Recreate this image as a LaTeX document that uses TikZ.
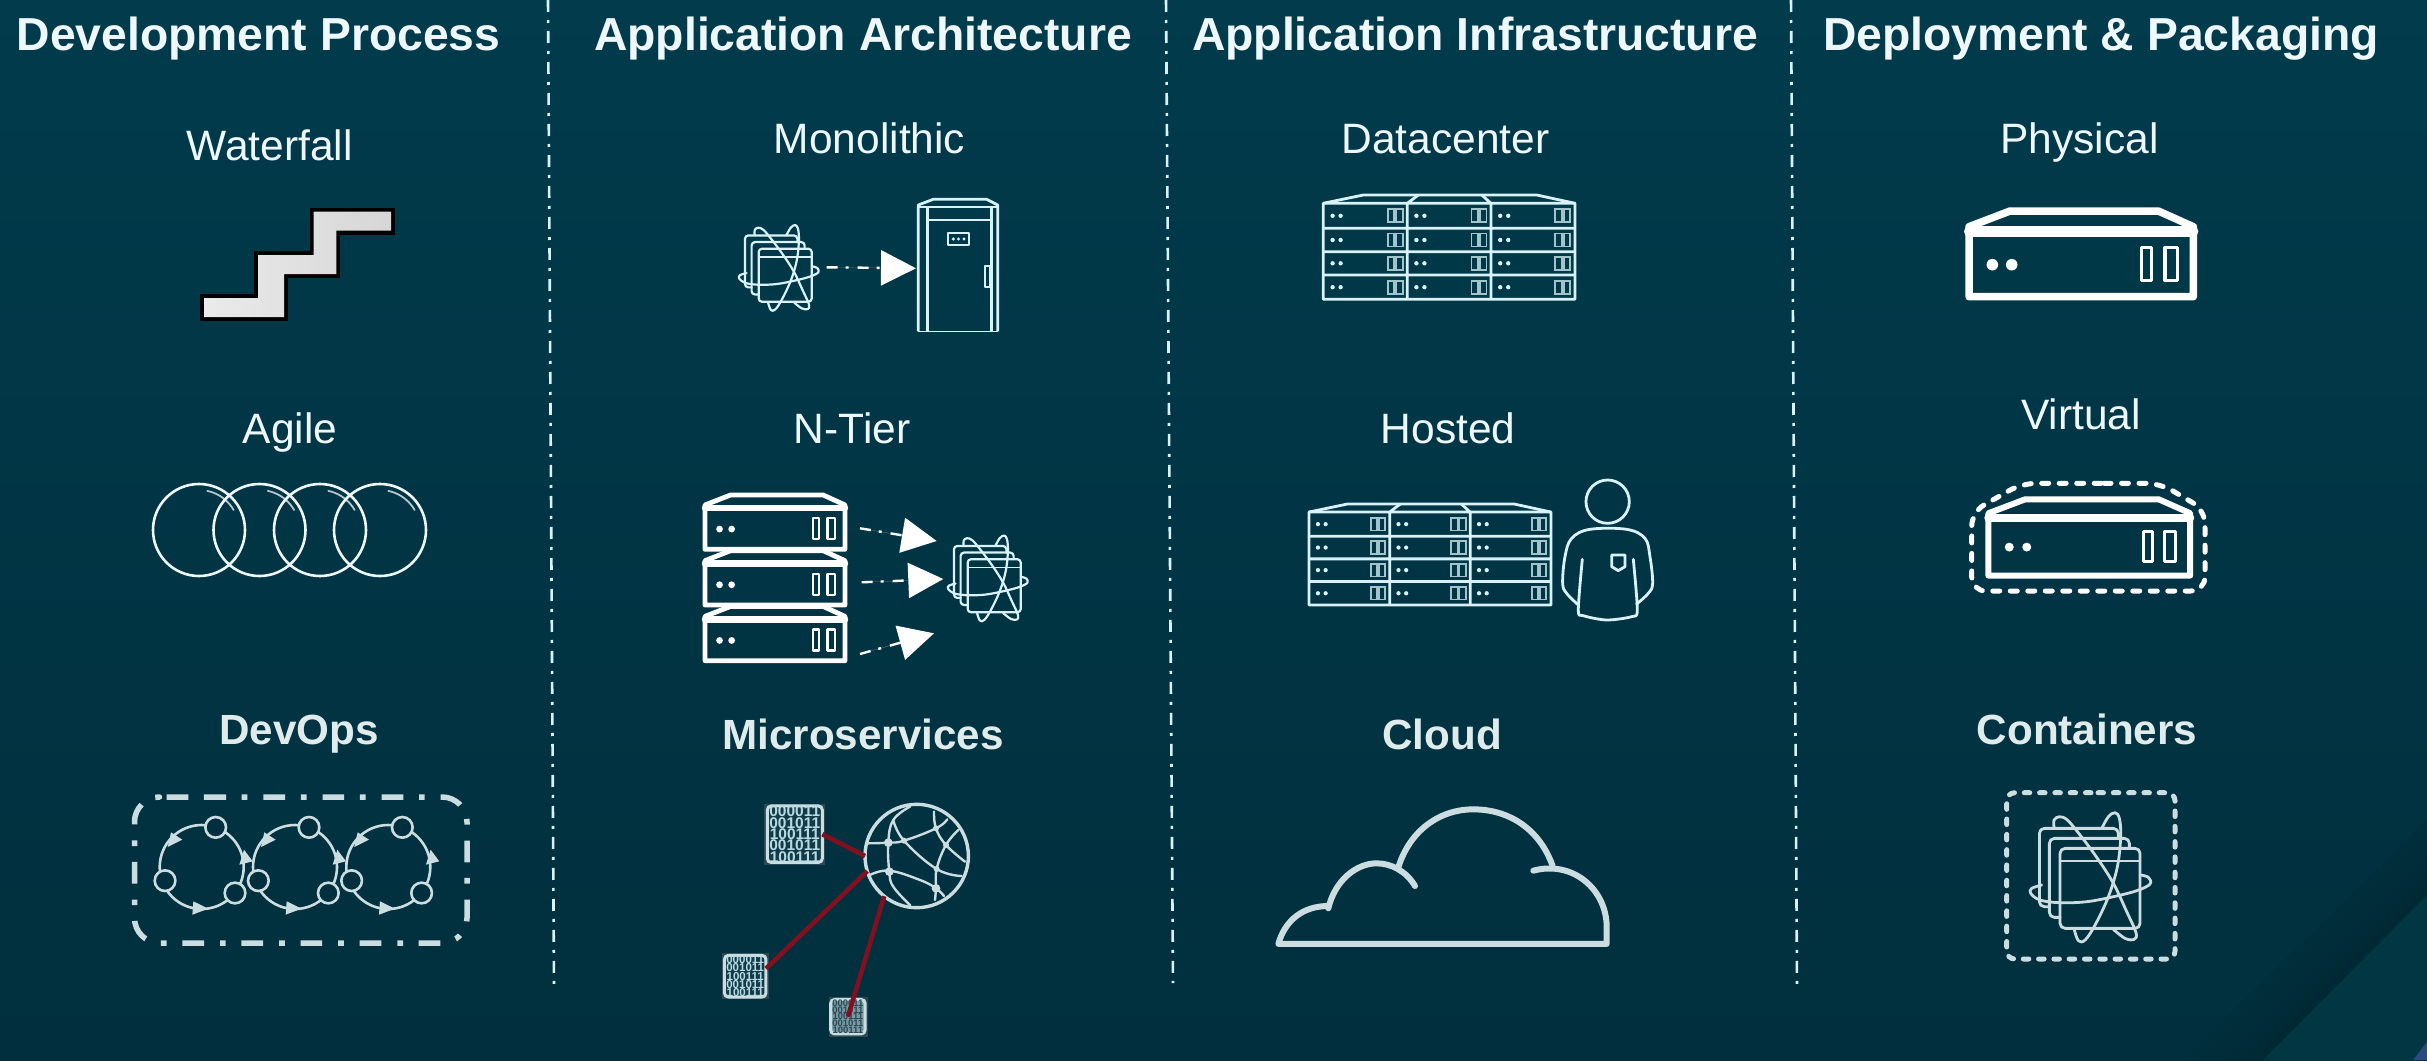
\documentclass[tikz,border=0pt]{standalone}
\usepackage{fontspec}
\setmainfont{Liberation Sans}
\usetikzlibrary{arrows.meta}
\definecolor{bgtop}{HTML}{013B4C}
\definecolor{bgmid}{HTML}{013848}
\definecolor{bgbot}{HTML}{012F3D}
\definecolor{banddark}{HTML}{012934}
\definecolor{cornerlight}{HTML}{013642}
\definecolor{cornerblue}{HTML}{2A4A80}
\definecolor{ink}{HTML}{EEF8FA}
\definecolor{brightline}{HTML}{D8F2F8}
\definecolor{softline}{HTML}{CBDDE0}
\definecolor{redline}{HTML}{821020}
\definecolor{chiptext}{HTML}{B4DCE4}
\definecolor{chiphalo}{HTML}{2B4853}
\tikzset{
  headtext/.style={font=\fontsize{46.3}{50}\selectfont\bfseries,text=ink,anchor=base,inner sep=0pt},
  subtext/.style={font=\fontsize{42.5}{46}\selectfont,text=ink,anchor=base,inner sep=0pt},
  boldtext/.style={font=\fontsize{42.2}{46}\selectfont\bfseries,text=softline!60!white,anchor=base,inner sep=0pt},
  divider/.style={draw=brightline,line width=2.6pt,dash pattern=on 12pt off 8pt on 3pt off 8pt},
  flowline/.style={draw=white,fill=white,line width=2.4pt,dash pattern=on 11pt off 8pt on 3pt off 9pt,
    -{Triangle[length=35pt,width=35pt,sep=0pt]}},
  srv/.style={draw=white,line join=round,line cap=round},
  thinicon/.style={draw=brightline,line width=2.8pt,line join=round},
  softicon/.style={draw=softline,line join=round,line cap=round},
  redlink/.style={draw=redline,line width=4.6pt},
  chipbox/.style={draw=softline,line width=3pt,rounded corners=4pt,
    inner sep=0pt,outer sep=0pt,text=chiptext,align=center},
}
\newcommand{\serverIcon}[7]{%
  \begin{scope}[shift={(#1,#2)},xscale=#3,yscale=#4]
    \draw[srv,line width=#5pt] (0,85.7)--(0,15.7)--(41,0)--(189.3,0)--(224.3,15.7)--(224.3,85.7)--cycle;
    \draw[srv,line width=1.35*#5pt] (0,20.5)--(224.3,20.5);
    \draw[srv,line width=#6pt] (172.7,36.3) rectangle (182.7,69.7) (196,36.3) rectangle (208.3,69.7);
    \fill[white] (23.3,53.7) circle[radius=#7] (42.7,53.7) circle[radius=#7];
  \end{scope}}
% atom icon: coordinates are those of the large Containers icon (3x), centred on (332,320)
\newcommand{\atomIcon}[5]{%
  \begin{scope}[shift={(#1,#2)},scale=#3*0.3333,shift={(-332,-320)}]
    \tikzset{atomline/.style={draw=#5,line width=#4pt,line join=round,line cap=round}}
    \draw[atomline,rounded corners=#3*5pt] (415,205)--(415,175)--(178,175)--(178,410)--(208,410);
    \draw[atomline,rounded corners=#3*5pt] (448,235)--(448,205)--(208,205)--(208,442)--(240,442);
    \draw[atomline,rounded corners=#3*5pt] (240,235) rectangle (480,475);
    \draw[atomline,line width=0.75*#4pt] (240,272)--(480,272);
    \draw[atomline] plot[smooth,tension=.6] coordinates {(222,172)(222,150)(238,140)(262,150)(300,195)(350,262)(400,340)(440,425)(468,488)(462,508)(435,505)(400,478)};
    \draw[atomline] plot[smooth,tension=.6] coordinates {(365,175)(385,140)(405,128)(418,145)(422,200)(412,290)(385,380)(345,465)(315,510)(295,512)(283,480)};
    \draw[atomline] plot[smooth,tension=.6] coordinates {(185,345)(155,355)(152,370)(180,390)(240,398)(320,395)(400,380)(470,362)(510,342)(505,322)(482,315)};
  \end{scope}}
\newcommand{\rackGrid}[4]{%
  \begin{scope}[shift={(#1,#2)},xscale=#3,yscale=#4]
    \draw[thinicon] (0,104.3)--(0,8.3)--(40,0)--(213.4,0)--(251.7,8.3)--(251.7,104.3)--cycle;
    \draw[thinicon] (0,8.3)--(251.7,8.3) (95,0)--(84,8.3) (158.4,0)--(167.7,8.3)
      (84,8.3)--(84,104.3) (167.7,8.3)--(167.7,104.3)
      (0,33.3)--(251.7,33.3) (0,56.7)--(251.7,56.7) (0,80)--(251.7,80);
    \foreach \cx in {0,83.8,167.6}{\foreach \ry in {20.8,45,68.3,92.2}{
      \fill[brightline] (\cx+9.3,\ry) circle[radius=2.2] (\cx+17.3,\ry) circle[radius=2.2];
      \draw[draw=brightline!75!bgtop,line width=1.8pt] (\cx+64.3,\ry-6.5) rectangle (\cx+71,\ry+6.5)
        (\cx+72.7,\ry-6.5) rectangle (\cx+79.3,\ry+6.5);
    }}
  \end{scope}}
\newcommand{\loopIcon}[2]{%
  \begin{scope}[shift={(#1,#2)},scale=0.3333]
    \draw[softicon,line width=2.6pt] (0,0) circle[radius=126];
    \fill[softline] (-102,-60)--(-92,-104)--(-58,-82)--cycle
      (127,-52)--(113,-7)--(153,-17)--cycle
      (20,125)--(-25,103)--(-28,143)--cycle;
    \foreach \px/\py in {42/-119,-110/41,100/78}{
      \draw[softicon,line width=2.6pt,fill=bgbot] (\px,\py) circle[radius=31];}
  \end{scope}}
\begin{document}
\begin{tikzpicture}[x=1pt,y=-1pt]
\useasboundingbox (0,0) rectangle (2427,1060);
\shade[top color=bgtop,middle color=bgmid,bottom color=bgbot] (0,0) rectangle (2427,1060);
% corner
\foreach \i in {0,...,9}{
  \pgfmathsetmacro\bx{2183+8*\i}
  \pgfmathsetmacro\ry{820+7.5*\i}
  \pgfmathsetmacro\mixv{(\i+1)*10}
  \fill[banddark!\mixv!bgbot] (\bx,1060)--(2427,\ry)--(2427,895)--(2263,1060)--cycle;
}
\fill[cornerlight] (2263,1060)--(2427,895)--(2427,1060)--cycle;
\fill[cornerblue] (2413,1060)--(2427,1042)--(2427,1060)--cycle;
% dividers
\coordinate (d1a) at (548,0); \coordinate (d1b) at (554,986);
\coordinate (d2a) at (1166,0); \coordinate (d2b) at (1173,983);
\coordinate (d3a) at (1791,0); \coordinate (d3b) at (1797,986);
\draw[divider] (d1a)--(d1b);
\draw[divider] (d2a)--(d2b);
\draw[divider] (d3a)--(d3b);
% headers
\node[headtext] (h1) at (258.5,50) {Development Process};
\node[headtext] (h2) at (863,50) {Application Architecture};
\node[headtext] (h3) at (1475,50) {Application Infrastructure};
\node[headtext] (h4) at (2101,50) {Deployment \& Packaging};
% labels
\node[subtext] (waterfall) at (269.5,160) {Waterfall};
\node[subtext] (agile) at (290,443) {Agile};
\node[boldtext] (devops) at (299,744) {DevOps};
\node[subtext] (mono) at (869.5,153.5) {Monolithic};
\node[subtext] (ntier) at (852,443) {N-Tier};
\node[boldtext] (micro) at (863,749) {Microservices};
\node[subtext] (dc) at (1445.5,153.5) {Datacenter};
\node[subtext] (hosted) at (1448,443) {Hosted};
\node[boldtext] (cloud) at (1442,749) {Cloud};
\node[subtext] (phys) at (2079.5,153.5) {Physical};
\node[subtext] (virt) at (2081,429) {Virtual};
\node[boldtext] (cont) at (2087,744) {Containers};
% waterfall stairs
\draw[draw=black,line width=8pt,line join=miter]
  (313.5,211.7)--(391,211.7)--(391,230.7)--(336.4,230.7)--(336.4,274)--(284,274)--(284,317)
  --(204.3,317)--(204.3,298)--(258,298)--(258,255)--(313.5,255)--cycle;
\path[left color=black!8,middle color=black!2,right color=black!16]
  (313.5,211.7)--(391,211.7)--(391,230.7)--(336.4,230.7)--(336.4,274)--(284,274)--(284,317)
  --(204.3,317)--(204.3,298)--(258,298)--(258,255)--(313.5,255)--cycle;
% agile
\foreach \cx in {199,259.5,320,380}{
  \draw[softicon,draw=ink,line width=2.6pt] (\cx,530) circle[radius=46];
  \draw[softicon,draw=ink!75!bgmid,line width=1.8pt] plot[domain=-78:-30,samples=12] ({\cx+40*cos(\x)},{530+40*sin(\x)});
}
% devops
\draw[softicon,line width=5.5pt,line cap=butt,rounded corners=25pt,dash pattern=on 21.7pt off 15.7pt on 5.7pt off 16pt]
  (179.3,797)--(467,797)--(467,943)--(134.5,943)--(134.5,797)--cycle;
\loopIcon{201.7}{867}
\loopIcon{295}{867}
\loopIcon{388.3}{867}
% monolithic
\atomIcon{779}{267.5}{0.663}{2.2}{brightline}
\begin{scope}[every path/.append style={thinicon}]
  \draw (918.3,331.3)--(918.3,205)--(933.3,199.3)--(986.7,199.3)--(997.7,205)--(997.7,331.3);
  \draw (918.3,207)--(997.7,207) (927.7,207)--(927.7,331.3) (991.7,207)--(991.7,331.3)
    (927.7,220)--(991.7,220);
  \draw[line width=1.2pt] (918.3,331.3)--(997.7,331.3);
  \draw[line width=1.8pt] (947.7,233.3) rectangle (969,244.7) (985,266) rectangle (990,286.7);
\end{scope}
\fill[brightline] (953.3,239) circle[radius=1.7] (958.5,239) circle[radius=1.7] (964,239) circle[radius=1.7];
\coordinate (m1) at (826.7,267.3); \coordinate (m2) at (916,268.3);
\draw[flowline] (m1)--(m2);
% n-tier
\serverIcon{705}{495}{0.624}{0.634}{4.8}{2.4}{5.4}
\serverIcon{705}{550.7}{0.624}{0.634}{4.8}{2.4}{5.4}
\serverIcon{705}{606.4}{0.624}{0.634}{4.8}{2.4}{5.4}
\atomIcon{988}{578}{0.663}{2.2}{brightline}
\coordinate (n1a) at (860,528.3); \coordinate (n1b) at (936.7,541);
\coordinate (n2a) at (861.7,582.3); \coordinate (n2b) at (943.3,579);
\coordinate (n3a) at (860,654); \coordinate (n3b) at (934,633.3);
\draw[flowline] (n1a)--(n1b);
\draw[flowline] (n2a)--(n2b);
\draw[flowline] (n3a)--(n3b);
% microservices
\fill[chiphalo] (764,803.5) rectangle (825,865);
\fill[chiphalo] (721.5,953) rectangle (769,999);
\fill[chiphalo] (828.5,997) rectangle (867.5,1036.5);
\node[chipbox,fill=chiphalo!45!bgbot,minimum size=55pt,font=\fontsize{15.5}{11.4}\selectfont\bfseries] (chip1) at (794.8,834.2)
  {000011\\001011\\100111\\001011\\100111};
\node[chipbox,fill=chiphalo!45!bgbot,minimum size=41.5pt,font=\fontsize{11.5}{8.4}\selectfont\bfseries] (chip2) at (745.2,976.2)
  {000011\\001011\\100111\\001011\\100111};
\node[chipbox,fill=chiphalo!45!chiptext,minimum size=34.5pt,font=\fontsize{9.5}{6.8}\selectfont\bfseries,text=chiphalo] (chip3) at (847.9,1016.7)
  {000011\\001011\\100111\\001011\\100111};
\node[circle,draw=softline,line width=3.4pt,minimum size=103.4pt,inner sep=0pt,outer sep=0pt] (globe) at (916.7,856) {};
\begin{scope}[shift={(690,780)},scale=0.3333]
  \draw[softicon,line width=2.4pt] plot[smooth,tension=.7] coordinates {(530,190)(595,188)(642,182)(738,145)(772,118)};
  \draw[softicon,line width=2.4pt] plot[smooth,tension=.7] coordinates {(540,285)(598,272)(690,300)(738,325)(762,348)};
  \draw[softicon,line width=2.4pt] plot[smooth,tension=.7] coordinates {(660,80)(610,120)(595,188)(598,275)(610,320)(660,375)};
  \draw[softicon,line width=2.4pt] plot[smooth,tension=.7] coordinates {(610,120)(642,182)(740,267)(815,288)};
  \draw[softicon,line width=2.4pt] plot[smooth,tension=.7] coordinates {(732,95)(738,145)(768,195)(825,245)};
  \draw[softicon,line width=2.4pt] plot[smooth,tension=.7] coordinates {(805,150)(768,195)(740,267)(738,325)(735,360)};
  \fill[softline] (595,188) circle[radius=13] (598,275) circle[radius=13] (738,325) circle[radius=13]
    (642,182) circle[radius=9] (738,145) circle[radius=9] (768,195) circle[radius=9] (740,267) circle[radius=9];
\end{scope}
\draw[redlink] (chip1.east)--(globe.west);
\draw[redlink] (chip2.20)--(globe.197);
\draw[redlink] (chip3.center)--(globe.231);
% datacenter / hosted
\rackGrid{1323.3}{195}{1}{1}
\rackGrid{1309}{504}{0.961}{0.968}
\begin{scope}[shift={(1290,470)},scale=0.3333,every path/.append style={thinicon,line cap=round}]
  \draw (953,95) circle[radius=65];
  \draw plot[smooth,tension=.6] coordinates {(865,405)(830,370)(818,340)(825,260)(845,205)(900,178)(1010,178)(1065,205)(1080,260)(1088,340)(1075,370)(1040,402)};
  \draw plot[smooth,tension=.5] coordinates {(877,268)(865,420)(880,437)(950,450)(1025,440)(1042,420)(1030,268)};
  \draw (965,255)--(1005,255)--(1005,290)--(985,302)--(965,290)--cycle;
\end{scope}
% cloud
\begin{scope}[shift={(1260,780)},scale=0.3333,every path/.append style={softicon,line width=6pt}]
  \draw (205,378) .. controls (130,378) and (75,420) .. (55,492) -- (1040,492) -- (1040,440)
     .. controls (1040,330) and (940,240) .. (820,272);
  \draw (205,385) .. controls (225,300) and (290,250) .. (350,250) .. controls (395,250) and (440,275) .. (465,318);
  \draw (415,262) .. controls (450,150) and (540,88) .. (640,88) .. controls (750,88) and (840,150) .. (878,258);
\end{scope}
% physical, virtual
\serverIcon{1969}{211}{1}{1}{7.5}{3.2}{5.8}
\serverIcon{1988.3}{499.3}{0.9}{0.89}{6}{3}{5}
\draw[draw=white,line width=5pt,line cap=round,rounded corners=14pt,dash pattern=on 7pt off 10.5pt]
  (2090,483.3)--(2160,483.3)--(2205,510)--(2205,591)--(1971.7,591)--(1971.7,512)--(2022,483.3)--cycle;
% containers
\draw[softicon,line width=5pt,rounded corners=8pt,dash pattern=on 5.5pt off 9.8pt]
  (2090,792.7)--(2175,792.7)--(2175,959)--(2006.7,959)--(2006.7,792.7)--cycle;
\atomIcon{2090.7}{876.7}{1}{2.8}{softline}
\end{tikzpicture}
\end{document}
